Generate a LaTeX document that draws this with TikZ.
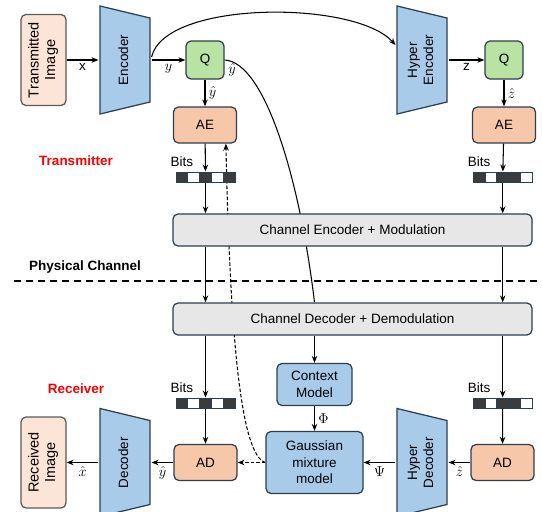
\documentclass[tikz,border=0pt]{standalone}
\usepackage{fontspec}
\setmainfont{Liberation Sans}
\usepackage[dvipsnames]{xcolor}
\usetikzlibrary{positioning,arrows.meta,calc,backgrounds}

\definecolor{imgfill}{HTML}{FCE4D6}
\definecolor{encfill}{HTML}{A9CBEA}
\definecolor{qfill}{HTML}{B8E3A3}
\definecolor{aefill}{HTML}{F7C7A9}
\definecolor{chfill}{HTML}{E7E7E7}
\definecolor{edgecol}{HTML}{2B3F50}
\definecolor{bitdark}{HTML}{3B3B3B}

\newcommand{\uptext}[1]{\rotatebox{90}{\begin{tabular}{@{}c@{}}#1\end{tabular}}}

\begin{document}
\begin{tikzpicture}[x=1pt,y=-1pt,>={Stealth[length=7pt,width=5.5pt]},line width=1.05pt,
    font=\fontsize{13.5}{16}\selectfont,
    box/.style={draw=edgecol,line width=1.25pt,rounded corners=5pt,align=center,inner sep=0pt},
    img node/.style={box,fill=imgfill,draw=black!65,minimum width=45pt,minimum height=91pt,font=\fontsize{14.5}{16.5}\selectfont},
    coder/.style={minimum width=52pt,minimum height=110pt,inner sep=0pt,
        path picture={\filldraw[fill=encfill,draw=edgecol,line width=1.25pt]
            ([shift={(1pt,-1pt)}]path picture bounding box.north west)
            -- ([shift={(-1pt,-13pt)}]path picture bounding box.north east)
            -- ([shift={(-1pt,13pt)}]path picture bounding box.south east)
            -- ([shift={(1pt,1pt)}]path picture bounding box.south west) -- cycle;}},
    q node/.style={box,fill=qfill,minimum size=38pt},
    ae node/.style={box,fill=aefill,minimum width=63pt,minimum height=36pt},
    ch node/.style={box,fill=chfill,minimum width=359pt,minimum height=32pt},
    gm node/.style={box,fill=encfill,font=\fontsize{13.5}{16.5}\selectfont},
    bit/.style={draw=edgecol,line width=1pt,minimum width=11.8pt,minimum height=10pt,inner sep=0pt},
    side label/.style={font=\fontsize{13.5}{16}\selectfont\bfseries}]
    \useasboundingbox (0,0) rectangle (542,512);

    % transmitter side
    \node[img node] (img) at (43.5,60) {\uptext{Transmitted\\Image}};
    \node[coder] (enc) at (125,60) {\uptext{Encoder}};
    \node[q node] (q) at (205,60) {Q};
    \node[ae node] (ae) [below of=q,node distance=65pt] {AE};
    \node[coder] (henc) at (422,60) {\uptext{Hyper\\Encoder}};
    \node[q node] (q2) at (504,60) {Q};
    \node[ae node] (ae2) [below of=q2,node distance=65pt] {AE};
    \node[side label,text=red] (tx) at (76,161) {Transmitter};

    \foreach \f [count=\i] in {bitdark,white,bitdark,white,bitdark}
        \node[bit,fill=\f] (sa\i) at (170.1+11.8*\i,177) {};
    \foreach \f [count=\i] in {bitdark,white,bitdark,bitdark,white}
        \node[bit,fill=\f] (sb\i) at (467.3+11.8*\i,177) {};
    \node (bits1) [above=1pt of sa1] {Bits};
    \node (bits2) [above=1pt of sb1] {Bits};

    % channel
    \node[ch node] (chenc) at (352.5,230) {Channel Encoder + Modulation};
    \node[side label] (phy) at (85,267) {Physical Channel};
    \coordinate (phyl) at (14,281);
    \coordinate (phyr) at (542,281);
    \node[ch node] (chdec) at (352.5,319) {Channel Decoder + Demodulation};

    % receiver side
    \node[side label,text=red] (rx) at (76,389) {Receiver};
    \foreach \f [count=\i] in {bitdark,white,bitdark,white,bitdark}
        \node[bit,fill=\f] (sc\i) at (170.1+11.8*\i,403) {};
    \foreach \f [count=\i] in {bitdark,white,bitdark,bitdark,white}
        \node[bit,fill=\f] (sd\i) at (467.3+11.8*\i,403) {};
    \node (bits3) [above=1pt of sc1] {Bits};
    \node (bits4) [above=1pt of sd1] {Bits};

    \node[ae node] (ad) at (205.5,462.5) {AD};
    \node[coder] (dec) at (125,462.5) {\uptext{Decoder}};
    \node[img node] (rimg) at (43.5,462.5) {\uptext{Received\\Image}};
    \node[gm node,minimum width=75pt,minimum height=42pt] (ctx) at (314.5,384.5) {Context\\Model};
    \node[gm node,minimum width=97pt,minimum height=62pt] (gmm) at (314.5,462.5) {Gaussian\\mixture\\model};
    \node[coder] (hdec) at (422,462.5) {\uptext{Hyper\\Decoder}};
    \node[ae node] (ad2) at (502.5,462.5) {AD};

    \path[->]
        (img) edge node[below] {$\mathrm{x}$} (enc)
        (enc) edge node[below] {$y$} (q)
        (q) edge node[right] {$\hat{y}$} (ae)
        (ae) edge (sa3)
        (sa3) edge (sa3 |- chenc.north)
        (henc) edge node[below] {$\mathrm{z}$} (q2)
        (q2) edge node[right] {$\hat{z}$} (ae2)
        (ae2) edge (sb3)
        (sb3) edge (sb3 |- chenc.north)
        (sa3 |- chenc.south) edge (sa3 |- chdec.north)
        (sb3 |- chenc.south) edge (sb3 |- chdec.north)
        (sc3 |- chdec.south) edge (sc3)
        (sc3) edge (ad)
        (sd3 |- chdec.south) edge (sd3)
        (sd3) edge (ad2)
        (ctx |- chdec.south) edge (ctx)
        (ctx) edge node[right] {$\Phi$} (gmm)
        (ad2) edge node[below] {$\hat{z}$} (hdec)
        (hdec) edge node[below] {$\Psi$} (gmm)
        (ad) edge node[below] {$\hat{y}$} (dec)
        (dec) edge node[below] {$\hat{x}$} (rimg);

    \draw[->] ([yshift=3pt]enc.east) .. controls (165,0) and (355,0) .. ([yshift=15pt]henc.west);
    \draw[->,dash pattern=on 3.5pt off 2pt] (gmm.west) -- (ad.east);
    \draw[line width=1.3pt,dash pattern=on 7pt off 5pt] (phyl) -- (phyr);

    \begin{pgfonlayer}{background}
        \draw[line width=1.05pt] (q.east) .. controls (265,62) and (300,180) .. (ctx |- chdec.north)
            node[pos=0,below right] {$\hat{y}$};
        \draw[->,line width=1.05pt,dash pattern=on 3.5pt off 2pt] (gmm.west) .. controls (240,455) and (230,330) .. ($(ae.south)!0.65!(ae.south east)$);
    \end{pgfonlayer}
\end{tikzpicture}
\end{document}
